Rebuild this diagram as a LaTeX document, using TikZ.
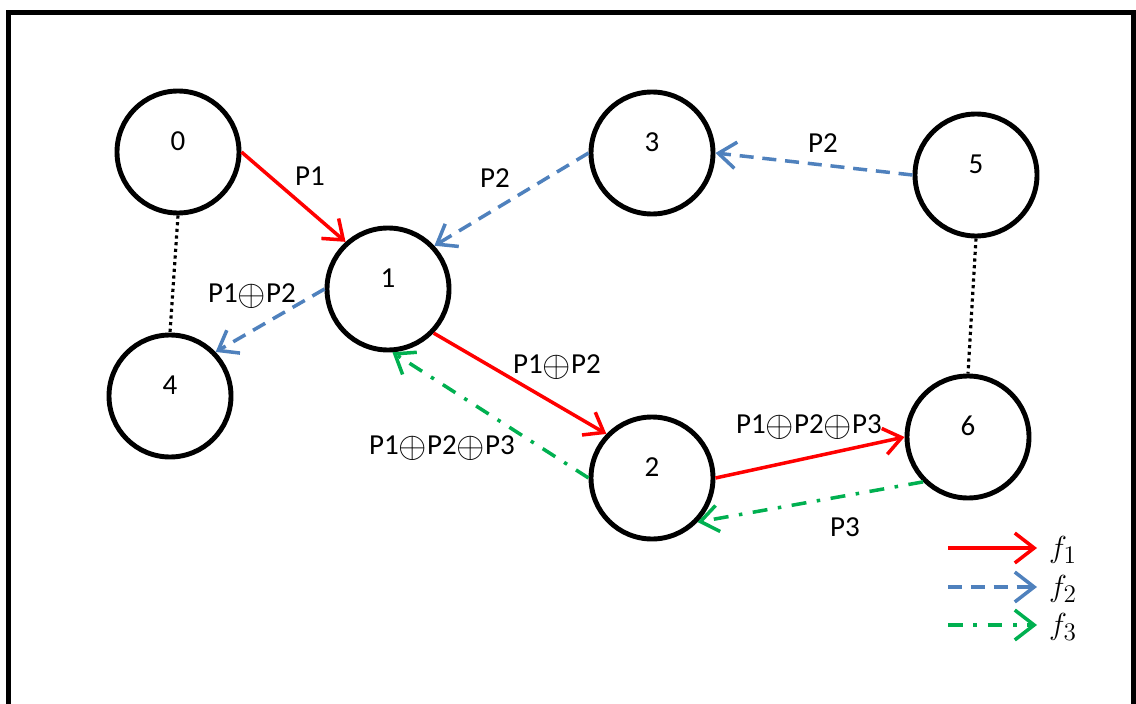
\documentclass[tikz,border=0pt]{standalone}
\usepackage{fontspec}
\setmainfont{Carlito}
\usetikzlibrary{arrows.meta}
\definecolor{fred}{RGB}{255,0,0}
\definecolor{fblue}{RGB}{79,129,189}
\definecolor{fgreen}{RGB}{0,176,80}
\newcommand{\lbl}{\fontsize{16.5}{19}\selectfont}
\newcommand{\xo}{\raisebox{-0.2ex}{\scalebox{1.2}{$\mathord{\oplus}$}}}

\begin{document}
\begin{tikzpicture}[x=0.2mm, y=-0.2mm,
  vertex/.style={circle, draw, line width=2.8pt, minimum size=24.4mm,
                 inner sep=0pt, font=\lbl, text height=3mm, text depth=3.5mm},
  flow/.style={line width=2pt, -{Straight Barb[length=10pt, width=15pt]}},
  f1/.style={flow, fred},
  f2/.style={flow, fblue, dash pattern=on 8pt off 5pt},
  f3/.style={flow, fgreen, dash pattern=on 8.5pt off 6pt on 2pt off 6pt},
  tie/.style={line width=1.8pt, dash pattern=on 1.8pt off 2pt},
  tag/.style={font=\lbl, inner sep=1pt}]
\useasboundingbox (0,0) rectangle (1136,704);
\draw[line width=2.6pt] (8.5,740) -- (8.5,12.5) -- (1133.5,12.5) -- (1133.5,740);

% vertices
\node[vertex] (n0) at (178,152) {0};
\node[vertex] (n1) at (388,289) {1};
\node[vertex] (n2) at (652,478) {2};
\node[vertex] (n3) at (652,153) {3};
\node[vertex] (n4) at (170,396) {4};
\node[vertex] (n5) at (976,175) {5};
\node[vertex] (n6) at (968,437) {6};

% links
\draw[tie] (n0.south) -- (n4.north);
\draw[tie] (n5.south) -- (n6.north);

% flows
\draw[f1] (n0.east) -- (n1.132);
\draw[f2] (n3.west) -- (n1.43);
\draw[f2] (n5.west) -- (n3.east);
\draw[f2] (n1.west) -- (n4.44);
\draw[f1] (n1.-44) -- (n2.136);
\draw[f3] (n2.west) -- (n1.-86);
\draw[f1] (n2.east) -- (n6.west);
\draw[f3] (n6.-135) -- (n2.-44);

% packets
\node[tag] (t01) at (310,176) {P1};
\node[tag] (t31) at (495,178) {P2};
\node[tag] (t53) at (823,143) {P2};
\node[tag] (t14) at (252,296) {P1\xo P2};
\node[tag] (t12) at (557,367) {P1\xo P2};
\node[tag] (t21) at (442,448) {P1\xo P2\xo P3};
\node[tag] (t26) at (809,427) {P1\xo P2\xo P3};
\node[tag] (t62) at (845,527) {P3};

% legend
\coordinate (k1a) at (948,548); \coordinate (k1b) at (1037,548);
\coordinate (k2a) at (948,587); \coordinate (k2b) at (1037,587);
\coordinate (k3a) at (948,625); \coordinate (k3b) at (1037,625);
\draw[f1, -{Straight Barb[length=11pt, width=17pt]}] (k1a) -- (k1b);
\draw[f2, -{Straight Barb[length=11pt, width=17pt]}] (k2a) -- (k2b);
\draw[f3, -{Straight Barb[length=11pt, width=17pt]}] (k3a) -- (k3b);
\node[tag, font=\fontsize{19}{22}\selectfont] (k1) at (1063,550) {$f_1$};
\node[tag, font=\fontsize{19}{22}\selectfont] (k2) at (1063,589) {$f_2$};
\node[tag, font=\fontsize{19}{22}\selectfont] (k3) at (1063,627) {$f_3$};
\end{tikzpicture}
\end{document}
